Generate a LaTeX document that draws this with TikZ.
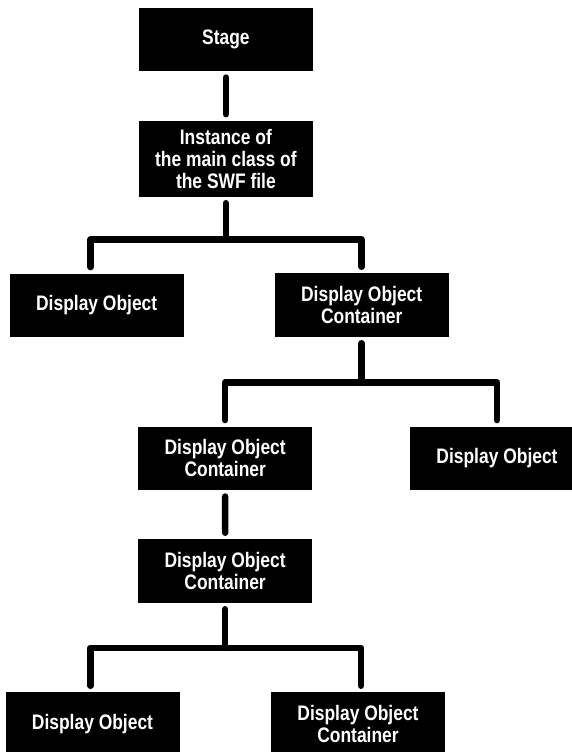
\documentclass[tikz,border=0pt]{standalone}
\usepackage{fontspec}
\newfontfamily\boxfont[FakeStretch=0.83]{Liberation Sans}
\usepackage{tikz}

\begin{document}
\begin{tikzpicture}
[x=1pt,y=-1pt,%
  box/.style={fill=black,text=white,minimum width=174pt,minimum height=63.5pt,%
    inner sep=0pt,outer sep=6.5pt,align=center,%
    font=\boxfont\bfseries\fontsize{21}{22}\selectfont},%
  link/.style={line width=6.5pt,line cap=round,line join=round}]
\useasboundingbox (0,0) rectangle (572,752);
\node[box] (stage) at (225.9,39.3) {Stage};
\node[box,minimum height=76pt] (inst) at (225.9,158.7) {Instance of\\the main class of\\the SWF file};
\node[box] (obja) at (96.7,305.3) {Display Object};
\node[box] (conta) at (361.7,305) {Display Object\\Container};
\node[box] (contb) at (225.2,458.3) {Display Object\\Container};
\node[box] (objb) at (497,458.3) {Display Object};
\node[box] (contc) at (225.1,571) {Display Object\\Container};
\node[box] (objc) at (92.5,724) {Display Object};
\node[box] (contd) at (358,724) {Display Object\\Container};
\draw[link] (stage) -- (inst);
\draw[link] (inst) -- ([yshift=-36.5pt]inst.south);
\draw[link] ([xshift=-6pt]obja.north) |- ([yshift=-36.5pt]inst.south) -| (conta.north);
\draw[link] (conta) -- ([yshift=-39pt]conta.south);
\draw[link] (contb.north) |- ([yshift=-39pt]conta.south) -| (objb.north);
\draw[link] (contb) -- (contc);
\draw[link] (contc) -- ([yshift=-38.5pt]contc.south);
\draw[link] ([xshift=-2pt]objc.north) |- ([yshift=-38.5pt]contc.south) -| ([xshift=3pt]contd.north);
\end{tikzpicture}
\end{document}
